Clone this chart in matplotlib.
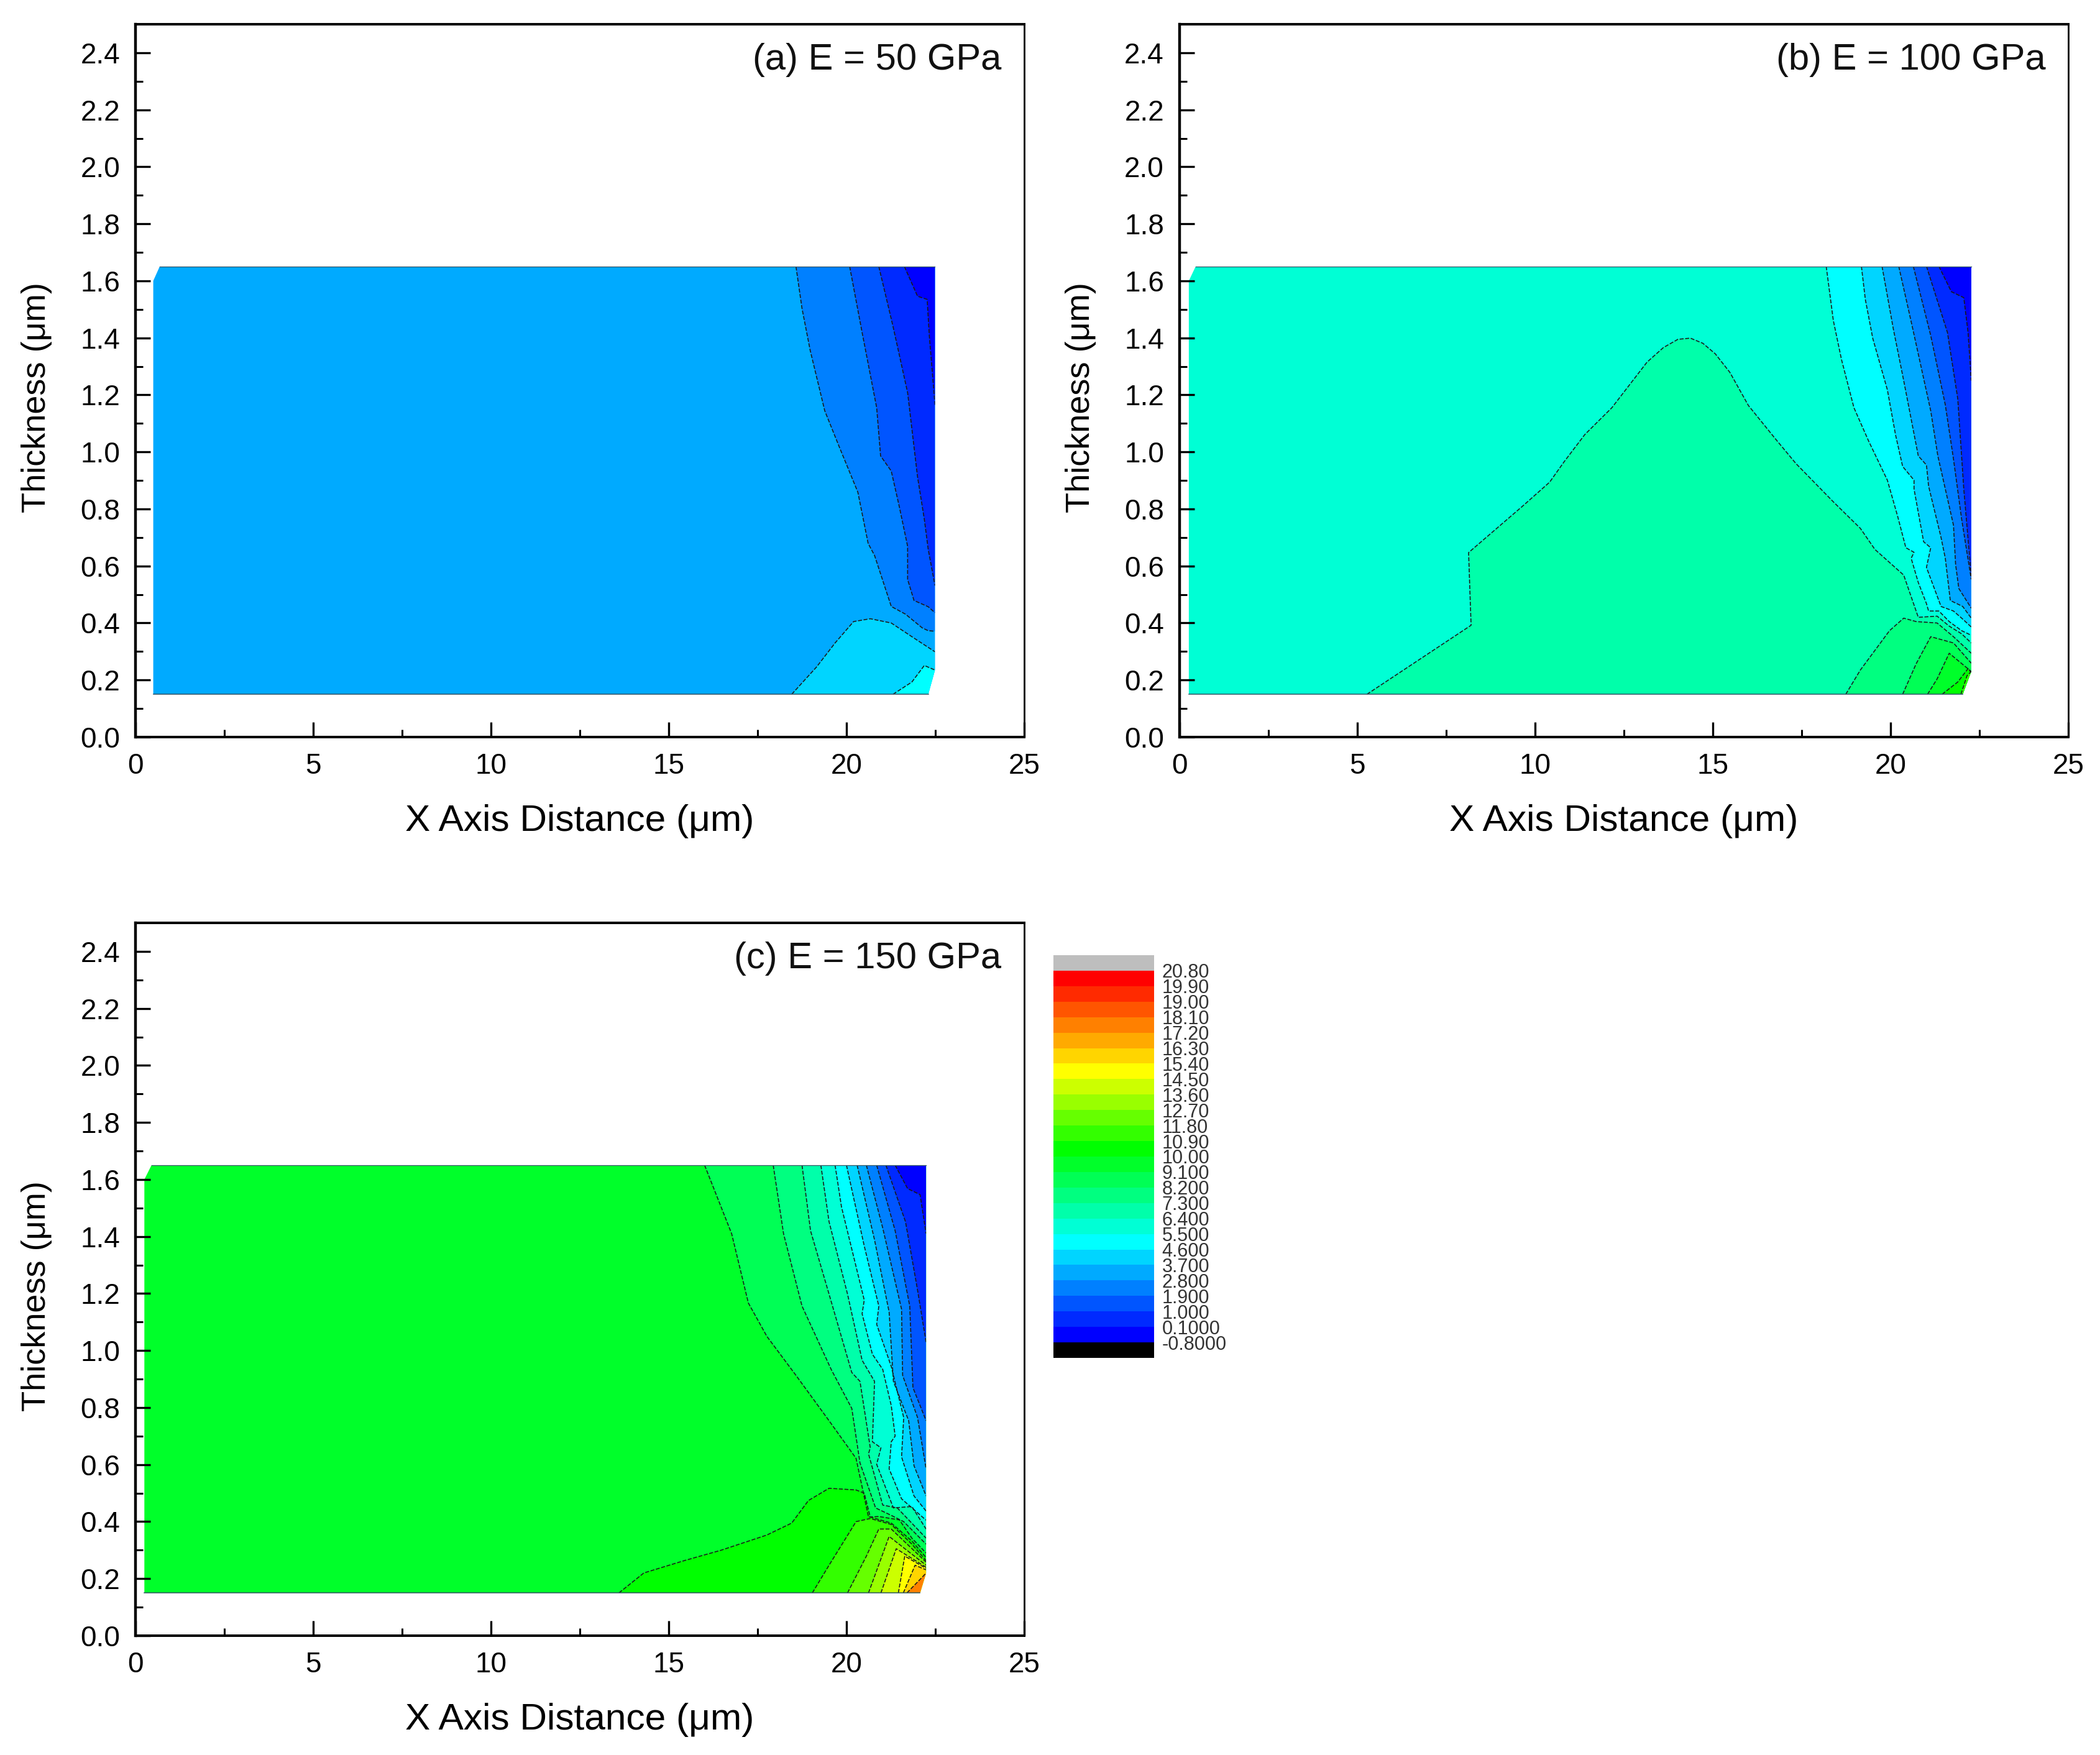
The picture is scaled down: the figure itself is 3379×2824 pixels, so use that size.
import matplotlib

matplotlib.use("Agg")
import matplotlib.pyplot as plt
import numpy as np
from matplotlib.colors import ListedColormap
from matplotlib.patches import Polygon

plt.rcParams["font.family"] = ["Liberation Sans", "DejaVu Sans"]

LEVEL_LABELS = ["-0.8000", "0.1000", "1.000", "1.900", "2.800", "3.700", "4.600", "5.500",
                "6.400", "7.300", "8.200", "9.100", "10.00", "10.90", "11.80", "12.70",
                "13.60", "14.50", "15.40", "16.30", "17.20", "18.10", "19.00", "19.90", "20.80"]
LEVELS = [float(s) for s in LEVEL_LABELS]
BAND_COLORS = ["#0000FF", "#002AFF", "#0055FF", "#0080FF", "#00AAFF", "#00D5FF", "#00FFFF",
               "#00FFD5", "#00FFAA", "#00FF80", "#00FF55", "#00FF2A", "#00FF00",
               "#33FF00", "#66FF00", "#99FF00", "#CCFF00", "#FFFF00",
               "#FFD500", "#FFAA00", "#FF8000", "#FF5500", "#FF2A00", "#FF0000"]
UNDER_COLOR = "#000000"
OVER_COLOR = "#BEBEBE"

X_TICKS = [0, 5, 10, 15, 20, 25]
Y_TICKS = [0.0, 0.2, 0.4, 0.6, 0.8, 1.0, 1.2, 1.4, 1.6, 1.8, 2.0, 2.2, 2.4]

# panel (a): domain outline and contour lines as (band inside, x, y)
A_TITLE = "(a) E = 50 GPa"
A_BASE = 4
A_DOMAIN_X = [0.5, 0.68, 22.49, 22.49, 22.3, 0.5]
A_DOMAIN_Y = [1.6, 1.65, 1.65, 0.235, 0.15, 0.15]
A_CONTOURS = [
    (3, [18.58, 18.75, 18.98, 19.39, 19.8, 20.32, 20.61, 20.79, 21.26, 21.66, 22.13, 22.3, 22.49],
     [1.65, 1.503, 1.356, 1.144, 1.017, 0.859, 0.679, 0.637, 0.458, 0.431, 0.383, 0.373, 0.371]),
    (2, [20.09, 20.44, 20.85, 20.96, 21.26, 21.49, 21.72, 21.72, 21.9, 22.3, 22.49],
     [1.65, 1.419, 1.155, 0.986, 0.933, 0.806, 0.669, 0.553, 0.479, 0.457, 0.436]),
    (1, [20.91, 21.31, 21.72, 22.0, 22.19, 22.3, 22.49],
     [1.65, 1.44, 1.208, 0.912, 0.764, 0.658, 0.531]),
    (0, [21.63, 22.0, 22.27, 22.33, 22.49],
     [1.65, 1.546, 1.535, 1.408, 1.165]),
    (5, [18.46, 19.16, 19.68, 20.2, 20.67, 21.26, 21.84, 22.49],
     [0.15, 0.246, 0.33, 0.405, 0.415, 0.4, 0.352, 0.299]),
    (6, [21.31, 21.84, 22.19, 22.49],
     [0.15, 0.193, 0.251, 0.235]),
]

# panel (b)
B_TITLE = "(b) E = 100 GPa"
B_BASE = 7
B_DOMAIN_X = [0.26, 0.45, 22.27, 22.27, 22.03, 0.26]
B_DOMAIN_Y = [1.6, 1.65, 1.65, 0.23, 0.15, 0.15]
B_CONTOURS = [
    (6, [18.19, 18.39, 18.62, 18.97, 19.38, 19.91, 20.2, 20.43, 20.66, 20.58, 20.78, 21.01, 21.07, 21.36, 21.65, 22.0, 22.27],
     [1.651, 1.461, 1.324, 1.155, 1.039, 0.901, 0.774, 0.664, 0.648, 0.627, 0.542, 0.468, 0.442, 0.442, 0.405, 0.373, 0.357]),
    (5, [19.18, 19.29, 19.5, 19.91, 20.14, 20.34, 20.66, 20.66, 20.93, 21.13, 21.01, 21.42, 21.77, 22.0, 22.27],
     [1.651, 1.535, 1.398, 1.218, 1.06, 0.949, 0.901, 0.87, 0.685, 0.664, 0.595, 0.458, 0.442, 0.417, 0.386]),
    (4, [19.76, 20.08, 20.37, 20.78, 21.01, 21.07, 21.42, 21.54, 21.68, 22.03, 22.27],
     [1.651, 1.43, 1.25, 0.986, 0.954, 0.88, 0.7, 0.627, 0.479, 0.458, 0.417]),
    (3, [20.23, 20.61, 21.13, 21.33, 21.77, 21.83, 21.92, 22.27],
     [1.651, 1.44, 1.144, 0.986, 0.743, 0.605, 0.521, 0.452]),
    (2, [20.64, 21.13, 21.54, 21.77, 22.0, 22.27],
     [1.651, 1.408, 1.165, 0.975, 0.764, 0.553]),
    (1, [21.01, 21.6, 21.89, 22.06, 22.27],
     [1.651, 1.419, 1.187, 0.87, 0.563]),
    (0, [21.36, 21.71, 22.06, 22.18, 22.27],
     [1.651, 1.562, 1.541, 1.419, 1.25]),
    (8, [5.27, 8.2, 8.13, 9.65, 10.41, 10.82, 11.4, 12.16, 13.15, 13.61, 14.02, 14.37, 14.72, 15.07, 15.48, 16.0, 16.76, 17.34, 18.39, 19.15, 19.56, 20.37, 20.78, 21.31, 21.65, 22.0, 22.27],
     [0.15, 0.392, 0.647, 0.81, 0.894, 0.966, 1.061, 1.155, 1.315, 1.366, 1.395, 1.399, 1.381, 1.344, 1.279, 1.163, 1.046, 0.959, 0.825, 0.732, 0.658, 0.568, 0.42, 0.424, 0.389, 0.362, 0.33]),
    (9, [18.74, 19.15, 19.97, 20.37, 20.72, 21.31, 21.77, 22.27],
     [0.15, 0.235, 0.373, 0.417, 0.405, 0.4, 0.352, 0.294]),
    (10, [20.34, 20.72, 21.13, 21.77, 22.27],
     [0.15, 0.257, 0.352, 0.33, 0.259]),
    (11, [21.04, 21.31, 21.65, 22.27],
     [0.15, 0.204, 0.294, 0.23]),
    (12, [21.45, 21.89, 22.18, 22.27],
     [0.15, 0.193, 0.24, 0.225]),
    (13, [21.98, 22.15, 22.27],
     [0.15, 0.215, 0.23]),
]

# panel (c)
C_TITLE = "(c) E = 150 GPa"
C_BASE = 11
C_DOMAIN_X = [0.25, 0.45, 22.24, 22.24, 22.07, 0.25]
C_DOMAIN_Y = [1.6, 1.65, 1.65, 0.22, 0.15, 0.15]
C_CONTOURS = [
    (10, [16.01, 16.77, 17.24, 17.76, 18.58, 19.51, 20.27, 20.62, 20.91, 21.49, 21.84, 22.24],
     [1.65, 1.41, 1.167, 1.05, 0.913, 0.754, 0.622, 0.416, 0.418, 0.406, 0.342, 0.29]),
    (9, [17.94, 18.23, 18.75, 19.57, 20.15, 20.38, 20.82, 21.26, 21.61, 22.24],
     [1.65, 1.41, 1.156, 0.934, 0.797, 0.606, 0.448, 0.422, 0.4, 0.321]),
    (8, [18.75, 18.99, 19.51, 20.15, 20.38, 20.67, 20.62, 21.02, 21.43, 22.24],
     [1.65, 1.42, 1.198, 0.923, 0.892, 0.659, 0.638, 0.458, 0.448, 0.342]),
    (7, [19.28, 19.51, 20.03, 20.44, 20.79, 20.73, 20.97, 20.85, 21.32, 21.84, 22.24],
     [1.65, 1.452, 1.198, 0.966, 0.892, 0.68, 0.659, 0.601, 0.448, 0.453, 0.374]),
    (6, [19.68, 19.86, 20.5, 20.44, 20.73, 21.02, 21.26, 21.37, 21.26, 21.2, 21.55, 22.24],
     [1.65, 1.504, 1.177, 1.129, 0.987, 0.934, 0.807, 0.7, 0.68, 0.585, 0.48, 0.405]),
    (5, [20.0, 20.5, 20.91, 20.85, 21.26, 21.61, 21.55, 21.9, 22.24],
     [1.65, 1.367, 1.156, 1.092, 0.944, 0.765, 0.627, 0.49, 0.437]),
    (4, [20.3, 20.79, 21.2, 21.32, 21.75, 21.9, 22.24],
     [1.65, 1.388, 1.135, 0.892, 0.754, 0.596, 0.49]),
    (3, [20.56, 21.02, 21.55, 21.58, 22.0, 22.24],
     [1.65, 1.43, 1.145, 0.913, 0.765, 0.585]),
    (2, [20.85, 21.37, 21.78, 21.87, 22.24],
     [1.65, 1.42, 1.156, 0.87, 0.754]),
    (1, [21.11, 21.66, 21.99, 22.24],
     [1.65, 1.452, 1.219, 1.029]),
    (0, [21.37, 21.72, 22.07, 22.24],
     [1.65, 1.568, 1.547, 1.41]),
    (12, [13.6, 14.3, 15.43, 16.48, 17.76, 18.46, 18.93, 19.51, 20.27, 20.5, 20.67, 21.26, 21.84, 22.24],
     [0.15, 0.22, 0.263, 0.3, 0.353, 0.395, 0.474, 0.517, 0.511, 0.5, 0.416, 0.395, 0.332, 0.274]),
    (13, [19.04, 19.51, 20.27, 20.67, 21.26, 21.84, 22.24],
     [0.15, 0.247, 0.4, 0.411, 0.39, 0.321, 0.263]),
    (14, [20.03, 20.56, 20.91, 21.26, 22.24],
     [0.15, 0.279, 0.374, 0.374, 0.258]),
    (15, [20.62, 21.2, 22.24],
     [0.15, 0.348, 0.247]),
    (16, [20.97, 21.4, 22.24],
     [0.15, 0.305, 0.24]),
    (17, [21.46, 21.64, 22.24],
     [0.15, 0.279, 0.236]),
    (18, [21.6, 21.93, 22.24],
     [0.15, 0.247, 0.231]),
    (20, [21.7, 22.13, 22.24],
     [0.15, 0.205, 0.22]),
]

W, H = 3380, 2824
fig = plt.figure(figsize=(W / 100, H / 100), dpi=100, facecolor="white")


def px_axes(left, top, width, height):
    return fig.add_axes([left / W, 1 - (top + height) / H, width / W, height / H])


def draw_panel(left, top, title, base, domain_x, domain_y, contours):
    ax = px_axes(left, top, 1430, 1147)
    ax.set_xlim(0, 25)
    ax.set_ylim(0, 2.5)

    domain = Polygon(np.column_stack([domain_x, domain_y]), closed=True, fc=BAND_COLORS[base], ec="none")
    ax.add_patch(domain)
    y_top, y_bot, x_end = max(domain_y), min(domain_y), max(domain_x)

    # painter's order, each region is closed through its domain corner
    for band, xs, ys in contours:
        corner = y_top if ys[0] > 1 else y_bot
        region = Polygon(np.column_stack([xs + [x_end], ys + [corner]]), closed=True,
                         fc=BAND_COLORS[band], ec="none", zorder=2)
        ax.add_patch(region)
        region.set_clip_path(domain)
    for band, xs, ys in contours:
        line, = ax.plot(xs, ys, color="#1a1a1a", lw=1.15, ls=(0, (4, 1.6)), zorder=3)
        line.set_clip_path(domain)
    ax.plot([domain_x[1], domain_x[2]], [y_top, y_top], color="#335566", lw=0.9, zorder=4)
    ax.plot([domain_x[4], domain_x[5]], [y_bot, y_bot], color="#335566", lw=1.1, zorder=4)

    ax.set_xticks(X_TICKS)
    ax.set_yticks(Y_TICKS)
    ax.set_yticklabels([f"{v:.1f}" for v in Y_TICKS])
    ax.set_xticks(np.arange(2.5, 25, 5), minor=True)
    ax.set_yticks(np.arange(0.1, 2.5, 0.2), minor=True)
    ax.tick_params(which="major", direction="in", length=17, width=2.4, labelsize=33, pad=18,
                   top=False, right=False)
    ax.tick_params(which="minor", direction="in", length=8.5, width=2.2, top=False, right=False)

    for side, lw in (("left", 3.2), ("bottom", 2.9), ("top", 2.9), ("right", 2.0)):
        ax.spines[side].set_linewidth(lw)
        ax.spines[side].set_zorder(6)

    ax.set_xlabel("X Axis Distance (μm)", fontsize=43.5)
    ax.set_ylabel("Thickness (μm)", fontsize=39)
    ax.xaxis.set_label_coords(0.5, -0.118)
    ax.yaxis.set_label_coords(-0.111, 0.476)
    ax.xaxis.label.set_va("center")
    ax.yaxis.label.set_va("center")
    ax.text(24.36, 2.34, title, ha="right", va="baseline", fontsize=43, color="#111111")
    return ax


draw_panel(218, 39, A_TITLE, A_BASE, A_DOMAIN_X, A_DOMAIN_Y, A_CONTOURS)
draw_panel(1898, 39, B_TITLE, B_BASE, B_DOMAIN_X, B_DOMAIN_Y, B_CONTOURS)
draw_panel(218, 1485, C_TITLE, C_BASE, C_DOMAIN_X, C_DOMAIN_Y, C_CONTOURS)

# colour key, labels sit on the band edges
key = px_axes(1695, 1537, 162, 648)
step = LEVELS[1] - LEVELS[0]
edges = [LEVELS[0] - step] + LEVELS + [LEVELS[-1] + step]
cells = np.arange(len(edges) - 1).reshape(-1, 1)
cmap = ListedColormap([UNDER_COLOR] + BAND_COLORS + [OVER_COLOR])
key.pcolormesh([0, 1], edges, cells, cmap=cmap, shading="flat")
key.set_ylim(edges[0], edges[-1])
key.set_xticks([])
key.yaxis.tick_right()
key.set_yticks(LEVELS)
key.set_yticklabels(LEVEL_LABELS)
key.tick_params(axis="y", length=0, pad=9, labelsize=22, labelcolor="#333333")
for spine in key.spines.values():
    spine.set_visible(False)

fig.savefig("out.png", dpi=100, facecolor="white")
